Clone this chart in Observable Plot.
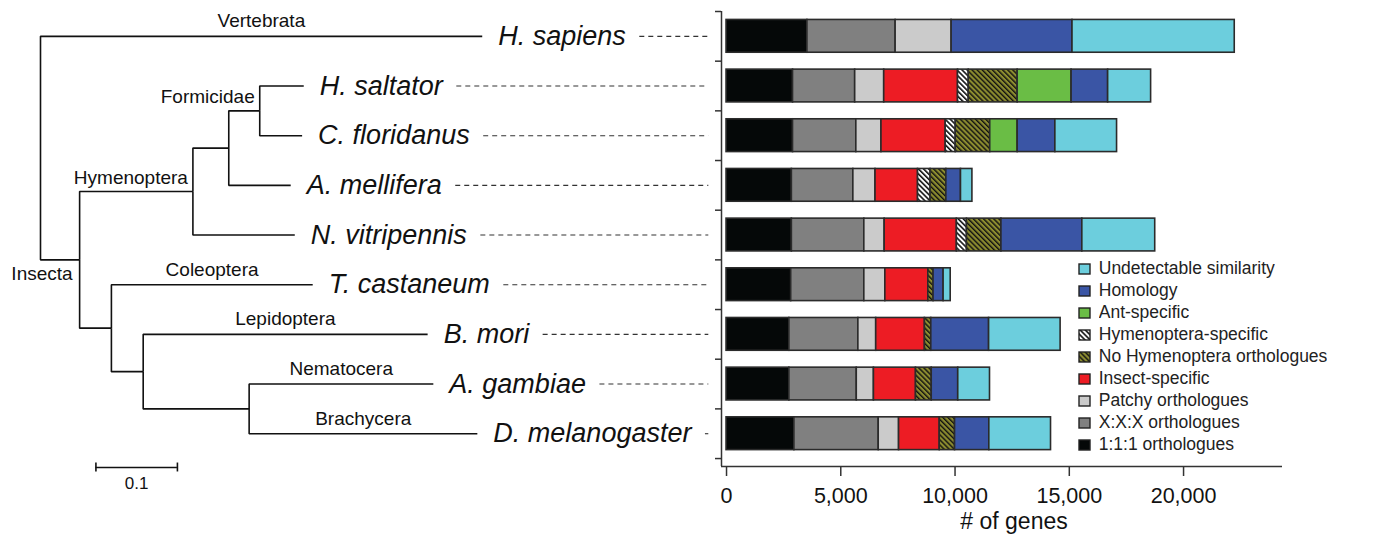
<!DOCTYPE html>
<html><head><meta charset="utf-8">
<script src="https://cdn.jsdelivr.net/npm/d3@7"></script>
<script src="https://cdn.jsdelivr.net/npm/@observablehq/plot@0.6"></script>
<style>
body{margin:0;background:#fff;}
#wrap{position:relative;width:1374px;height:541px;overflow:hidden;background:#fff;}
#wrap > svg{position:absolute;left:0;top:0;margin:0;}
#legend{position:absolute;left:1079px;top:258px;width:295px;}
#legend svg rect{stroke:#222;stroke-width:1.4px;}
</style></head><body>
<svg width="0" height="0" style="position:absolute">
<defs>
<pattern id="hatchWhite" patternUnits="userSpaceOnUse" width="3.6" height="3.6" patternTransform="rotate(-45)">
<rect width="3.6" height="3.6" fill="#ffffff"/><rect width="1.6" height="3.6" fill="#111111"/>
</pattern>
<pattern id="hatchOlive" patternUnits="userSpaceOnUse" width="3.6" height="3.6" patternTransform="rotate(-45)">
<rect width="3.6" height="3.6" fill="#8c8c2f"/><rect width="1.4" height="3.6" fill="#111111"/>
</pattern>
</defs></svg>
<div id="wrap"><div id="legend"></div></div>
<script>
// ---------------- data ----------------
const species = ["H. sapiens","H. saltator","C. floridanus","A. mellifera","N. vitripennis","T. castaneum","B. mori","A. gambiae","D. melanogaster"];
const categories = ["1:1:1 orthologues","X:X:X orthologues","Patchy orthologues","Insect-specific","Hymenoptera-specific","No Hymenoptera orthologues","Ant-specific","Homology","Undetectable similarity"];
const legendOrder = ["Undetectable similarity","Homology","Ant-specific","Hymenoptera-specific","No Hymenoptera orthologues","Insect-specific","Patchy orthologues","X:X:X orthologues","1:1:1 orthologues"];
const categoryColors = ["#050808","#808080","#cbcbcb","#ed1c24","url(#hatchWhite)","url(#hatchOlive)","#6abd45","#3a55a5","#6ccedd"];

const one2one      = [3540,2910,2910,2860,2860,2830,2750,2750,2970];
const xxx          = [3860,2720,2770,2690,3170,3200,3020,2950,3690];
const patchy       = [2450,1270,1100, 970, 890, 920, 780, 750, 890];
const insect       = [   0,3230,2810,1860,3160,1880,2130,1840,1780];
const hymSpecific  = [   0, 470, 440, 550, 440,   0,   0,   0,   0];
const noHym        = [   0,2140,1510, 690,1510, 230, 280, 690, 670];
const antSpecific  = [   0,2360,1200,   0,   0,   0,   0,   0,   0];
const homology     = [5290,1600,1650, 640,3540, 440,2530,1160,1500];
const undetectable = [7100,1880,2700, 500,3190, 310,3130,1390,2700];
const seriesValues = [one2one,xxx,patchy,insect,hymSpecific,noHym,antSpecific,homology,undetectable];

const xTicks = [0,5000,10000,15000,20000];
const xLabel = "# of genes";
const xDomain = [-220, 24330];
const yDomain = [0, 9.16];

// phylogeny (branch lengths in substitutions/site)
const nodeId     = ["root","H. sapiens","Insecta","Hymenoptera","Apis+ants","Formicidae","H. saltator","C. floridanus","A. mellifera","N. vitripennis","Coleoptera+","T. castaneum","Lepidoptera+Diptera","B. mori","Diptera","A. gambiae","D. melanogaster"];
const nodeParent = [null,"root","root","Insecta","Hymenoptera","Apis+ants","Formicidae","Formicidae","Apis+ants","Hymenoptera","Insecta","Coleoptera+","Coleoptera+","Lepidoptera+Diptera","Lepidoptera+Diptera","Diptera","Diptera"];
const nodeDepth  = [0,0.542,0.048,0.187,0.231,0.269,0.323,0.321,0.307,0.312,0.087,0.334,0.126,0.475,0.256,0.482,0.536];
const branchLabel= ["","Vertebrata","Insecta","Hymenoptera","","Formicidae","","","","","","Coleoptera","","Lepidoptera","","Nematocera","Brachycera"];
const labelsBelow = ["Insecta"];
const scaleBarLength = 0.1;
const scaleBarStart = 0.068;
const scaleBarRow = 9.18;
const treeXDomain = [0, 0.82];

// ---------------- build ----------------
const font = "'Liberation Sans', Arial, Helvetica, sans-serif";
const colorOf = Object.fromEntries(categories.map((c,i)=>[c,categoryColors[i]]));

const segments = [];
species.forEach((s,i)=>{
  let acc = 0;
  categories.forEach((c,j)=>{
    const v = seriesValues[j][i];
    if (v > 0) segments.push({species:s, row:i, category:c, x1:acc, x2:acc+v});
    acc += v;
  });
});

const nodes = nodeId.map((id,i)=>({id, parent:nodeParent[i], depth:nodeDepth[i], label:branchLabel[i]}));
const byId = Object.fromEntries(nodes.map(n=>[n.id,n]));
function yOf(n){
  if (n.y !== undefined) return n.y;
  const si = species.indexOf(n.id);
  if (si >= 0) return n.y = si + 0.5;
  const kids = nodes.filter(k=>k.parent===n.id);
  return n.y = d3.mean(kids, yOf);
}
nodes.forEach(yOf);
const links = nodes.filter(n=>n.parent).map(n=>({p:byId[n.parent], n}));
const isTip = n => species.includes(n.id);

const treeWidth = 721;
const treeMarginLeft = 40, treeMarginRight = 12.7;
const pxPerUnit = (treeWidth - treeMarginLeft - treeMarginRight)/(treeXDomain[1]-treeXDomain[0]);

const speciesFontSize = 27;
const ctx = document.createElement("canvas").getContext("2d");
ctx.font = `italic ${speciesFontSize}px ${font}`;
const labelDx = 16, dashGap = 14;
const tips = species.map((s,i)=>{
  const n = byId[s];
  const w = ctx.measureText(s).width;
  return {name:s, depth:n.depth, y:i+0.5, dashStart: n.depth + (labelDx + w + dashGap)/pxPerUnit};
});

const cladeLabels = nodes.filter(n=>n.label);
const tipClade = cladeLabels.filter(n=>isTip(n));
const nodeCladeAbove = cladeLabels.filter(n=>!isTip(n) && !labelsBelow.includes(n.id));
const nodeCladeBelow = cladeLabels.filter(n=>!isTip(n) && labelsBelow.includes(n.id));
const cladeFontSize = 19;

const tree = Plot.plot({
  width: treeWidth, height: 541,
  marginLeft: treeMarginLeft, marginRight: treeMarginRight, marginTop: 11, marginBottom: 75,
  x: {domain: treeXDomain, axis: null},
  y: {domain: yDomain, reverse: true, axis: null},
  style: {fontFamily: font, background: "transparent", overflow: "visible"},
  marks: [
    Plot.link(links, {x1: d=>d.p.depth, y1: d=>d.p.y, x2: d=>d.n.depth, y2: d=>d.n.y, curve: "step-before", stroke: "#111", strokeWidth: 1.6}),
    Plot.text(tipClade, {x: d=>(d.depth+byId[d.parent].depth)/2, y: "y", text: "label", dy: -15, fontSize: cladeFontSize, fill: "#111"}),
    Plot.text(nodeCladeAbove, {x: "depth", y: "y", text: "label", dx: -5, dy: -14, textAnchor: "end", fontSize: cladeFontSize, fill: "#111"}),
    Plot.text(nodeCladeBelow, {x: "depth", y: "y", text: "label", dx: -7, dy: 14, textAnchor: "end", fontSize: cladeFontSize, fill: "#111"}),
    Plot.text(tips, {x: "depth", y: "y", text: "name", dx: labelDx, textAnchor: "start", fontSize: speciesFontSize, fontStyle: "italic", fill: "#111"}),
    Plot.ruleY(tips, {y: "y", x1: "dashStart", x2: () => treeXDomain[1], stroke: "#333", strokeWidth: 1.1, strokeDasharray: "5,4"}),
    Plot.ruleY([scaleBarRow], {x1: scaleBarStart, x2: scaleBarStart + scaleBarLength, stroke: "#111", strokeWidth: 1.6}),
    Plot.ruleX([scaleBarStart, scaleBarStart + scaleBarLength], {y1: scaleBarRow - 0.09, y2: scaleBarRow + 0.09, stroke: "#111", strokeWidth: 1.6}),
    Plot.text([String(scaleBarLength)], {x: scaleBarStart + scaleBarLength/2, y: scaleBarRow, dy: 16, fontSize: 17, fill: "#111"})
  ]
});

const bars = Plot.plot({
  width: 1374, height: 541,
  marginLeft: 721, marginRight: 92, marginTop: 11, marginBottom: 75,
  x: {domain: xDomain},
  y: {domain: yDomain, reverse: true},
  color: {type: "ordinal", domain: categories, range: categoryColors},
  style: {fontFamily: font, background: "transparent", overflow: "visible"},
  marks: [
    Plot.rectX(segments, {x1: "x1", x2: "x2", y1: d=>d.row+0.17, y2: d=>d.row+0.83, fill: "category", stroke: "#2b2b2b", strokeWidth: 1.6}),
    Plot.axisY({ticks: d3.range(species.length+1), tickFormat: () => "", tickSize: 6, label: null, stroke: "#333", strokeWidth: 1.5}),
    Plot.axisX({ticks: xTicks, tickFormat: d3.format(","), tickSize: 10, tickPadding: 11, fontSize: 21.5, fill: "#111", stroke: "#333", strokeWidth: 1.5, label: null}),
    Plot.text([xLabel], {frameAnchor: "bottom", dx: 12, dy: 62, fontSize: 23, fill: "#111"}),
    Plot.ruleX([xDomain[0]], {stroke: "#333", strokeWidth: 1.5}),
    Plot.ruleY([yDomain[1]], {stroke: "#333", strokeWidth: 1.5})
  ]
});

const wrap = document.getElementById("wrap");
wrap.insertBefore(bars, wrap.firstChild);
wrap.insertBefore(tree, bars);

const legend = Plot.legend({
  color: {type: "ordinal", domain: legendOrder, range: legendOrder.map(c=>colorOf[c])},
  legend: "swatches", columns: 1, swatchWidth: 11, swatchHeight: 10,
  style: {fontFamily: font, fontSize: "17.5px", lineHeight: "21px", color: "#222"}
});
document.getElementById("legend").appendChild(legend);
</script>
</body></html>
